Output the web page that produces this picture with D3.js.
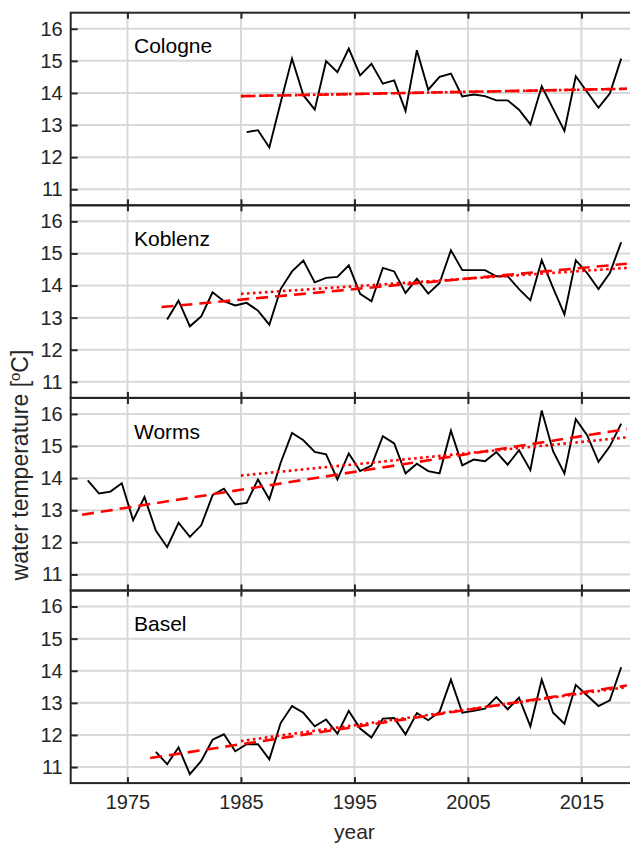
<!DOCTYPE html>
<html>
<head>
<meta charset="utf-8">
<script src="https://cdn.jsdelivr.net/npm/d3@7"></script>
<style>
    body { margin: 0; background: #fff; }
    svg { font-family: "Liberation Sans", Arial, Helvetica, sans-serif; }
</style>
</head>
<body>
<div id="chart"></div>
<script>
"use strict";

// yearly mean water temperature, first value belongs to the first year of each station
const stations = ["Cologne", "Koblenz", "Worms", "Basel"];
const firstYears = [1985, 1978, 1971, 1977];

const cologneTemp = [12.78, 12.84, 12.30, 13.70, 15.07, 13.93, 13.48, 14.99, 14.65, 15.38,
    14.55, 14.91, 14.29, 14.39, 13.44, 15.33, 14.10, 14.50, 14.60, 13.89,
    13.95, 13.90, 13.77, 13.77, 13.48, 13.02, 14.21, 13.51, 12.82, 14.52,
    14.03, 13.54, 13.98, 15.07];

const koblenzTemp = [12.94, 13.53, 12.73, 13.04, 13.79, 13.51, 13.38, 13.46, 13.22, 12.78,
    13.89, 14.44, 14.78, 14.10, 14.24, 14.27, 14.63, 13.74, 13.51, 14.55,
    14.44, 13.77, 14.21, 13.75, 14.08, 15.10, 14.48, 14.48, 14.48, 14.29,
    14.29, 13.89, 13.54, 14.79, 13.93, 13.10, 14.79, 14.39, 13.89, 14.39,
    15.35];

const wormsTemp = [13.93, 13.52, 13.58, 13.84, 12.69, 13.41, 12.37, 11.85, 12.61, 12.17,
    12.53, 13.47, 13.67, 13.18, 13.23, 13.96, 13.34, 14.48, 15.41, 15.18,
    14.82, 14.74, 13.96, 14.77, 14.22, 14.39, 15.31, 15.08, 14.15, 14.45,
    14.22, 14.15, 15.48, 14.40, 14.58, 14.53, 14.81, 14.42, 14.87, 14.25,
    16.11, 14.84, 14.15, 15.84, 15.34, 14.51, 14.99, 15.70];

const baselTemp = [11.47, 11.09, 11.61, 10.78, 11.19, 11.85, 12.02, 11.49, 11.71, 11.71,
    11.24, 12.37, 12.90, 12.69, 12.27, 12.48, 12.04, 12.75, 12.20, 11.92,
    12.51, 12.53, 12.02, 12.68, 12.46, 12.72, 13.72, 12.69, 12.75, 12.82,
    13.18, 12.80, 13.16, 12.27, 13.72, 12.69, 12.35, 13.56, 13.23, 12.90,
    13.08, 14.11];

const temperatures = [cologneTemp, koblenzTemp, wormsTemp, baselTemp];

// linear trends: [start year, start value, end year, end value]
const trendWhole = [[1985, 13.90, 2019, 14.13], [1978, 13.33, 2019, 14.68],
    [1971, 12.86, 2019, 15.53], [1977, 11.28, 2019, 13.54]];
const trendSince1985 = [[1985, 13.90, 2019, 14.13], [1985, 13.74, 2019, 14.55],
    [1985, 14.08, 2019, 15.27], [1985, 11.81, 2019, 13.49]];

const xTicks = [1975, 1985, 1995, 2005, 2015];
const yTicks = [11, 12, 13, 14, 15, 16];
const yDomain = [10.5, 16.5];
const xDomain = [1970, 2020];

function draw() {
    const width = 630;
    const height = 845;
    const margin = { top: 12.7, left: 70.7 };
    const panelHeight = 192.6;
    const plotWidth = 567.5;
    const axisColor = "#262626";
    const gridColor = "#d9d9d9";

    let svg = d3.select("#chart").append("svg")
        .attr("width", width)
        .attr("height", height);

    let xScale = d3.scaleLinear()
        .domain(xDomain)
        .range([margin.left, margin.left + plotWidth]);

    for (let i = 0; i < stations.length; i++) {
        let top = margin.top + i * panelHeight;
        let yScale = d3.scaleLinear()
            .domain(yDomain)
            .range([top + panelHeight, top]);

        let panel = svg.append("g").attr("class", "panel");

        // grid
        panel.selectAll(".ygrid")
            .data(yTicks)
            .enter()
            .append("line")
            .attr("x1", margin.left)
            .attr("x2", margin.left + plotWidth)
            .attr("y1", d => yScale(d))
            .attr("y2", d => yScale(d))
            .style("stroke", gridColor)
            .style("stroke-width", 2);

        panel.selectAll(".xgrid")
            .data(xTicks)
            .enter()
            .append("line")
            .attr("x1", d => xScale(d))
            .attr("x2", d => xScale(d))
            .attr("y1", top)
            .attr("y2", top + panelHeight)
            .style("stroke", gridColor)
            .style("stroke-width", 2);

        // yearly values, plotted at mid-year
        let points = temperatures[i].map((v, j) => ({ x: firstYears[i] + j + 0.5, y: v }));

        let line = d3.line()
            .x(d => xScale(d.x))
            .y(d => yScale(d.y));

        panel.append("path")
            .datum(points)
            .attr("d", line)
            .style("fill", "none")
            .style("stroke", "#000")
            .style("stroke-width", 1.9)
            .style("stroke-linejoin", "miter");

        // trend lines
        let trends = [
            { t: trendWhole[i], dash: "12,7" },
            { t: trendSince1985[i], dash: "2.6,3.4" }
        ];
        panel.selectAll(".trend")
            .data(trends)
            .enter()
            .append("line")
            .attr("class", "trend")
            .attr("x1", d => xScale(d.t[0]))
            .attr("y1", d => yScale(d.t[1]))
            .attr("x2", d => xScale(d.t[2]))
            .attr("y2", d => yScale(d.t[3]))
            .style("stroke", "#ff0000")
            .style("stroke-width", 2.6)
            .style("stroke-dasharray", d => d.dash);

        // axes with inward ticks
        let yAxis = d3.axisLeft(yScale)
            .tickValues(yTicks)
            .tickSizeInner(-7)
            .tickSizeOuter(0)
            .tickPadding(8)
            .tickFormat(d3.format("d"));

        let yAxisG = panel.append("g")
            .attr("transform", `translate(${margin.left},0)`)
            .call(yAxis);

        let xBottom = d3.axisBottom(xScale)
            .tickValues(xTicks)
            .tickSizeInner(-6)
            .tickSizeOuter(0)
            .tickPadding(12)
            .tickFormat(i === stations.length - 1 ? d3.format("d") : "");

        let xBottomG = panel.append("g")
            .attr("transform", `translate(0,${top + panelHeight})`)
            .call(xBottom);

        let xTop = d3.axisTop(xScale)
            .tickValues(xTicks)
            .tickSizeInner(-6)
            .tickSizeOuter(0)
            .tickFormat("");

        let xTopG = panel.append("g")
            .attr("transform", `translate(0,${top})`)
            .call(xTop);

        [yAxisG, xBottomG, xTopG].forEach(g => {
            g.select(".domain").remove();
            g.selectAll("line").style("stroke", axisColor).style("stroke-width", 2);
            g.selectAll("text")
                .style("fill", axisColor)
                .style("font-size", "20px")
                .style("font-family", "\"Liberation Sans\", Arial, sans-serif");
        });

        // box
        panel.append("rect")
            .attr("x", margin.left)
            .attr("y", top)
            .attr("width", plotWidth)
            .attr("height", panelHeight)
            .style("fill", "none")
            .style("stroke", axisColor)
            .style("stroke-width", 2);

        // station name
        panel.append("text")
            .attr("x", 134)
            .attr("y", top + 40.6)
            .text(stations[i])
            .style("font-size", "21px")
            .style("fill", "#000");
    }

    // x label
    svg.append("text")
        .attr("x", margin.left + plotWidth / 2)
        .attr("y", 838.5)
        .style("text-anchor", "middle")
        .style("font-size", "21px")
        .style("fill", axisColor)
        .text("year");

    // y label with superscript degree
    let yLabel = svg.append("text")
        .attr("transform", "translate(28,465) rotate(-90)")
        .style("text-anchor", "middle")
        .style("font-size", "23px")
        .style("fill", axisColor);
    yLabel.append("tspan").text("water temperature [");
    yLabel.append("tspan").text("o").attr("dy", -8).style("font-size", "15px");
    yLabel.append("tspan").text("C]").attr("dy", 8);
}

draw();
</script>
</body>
</html>
